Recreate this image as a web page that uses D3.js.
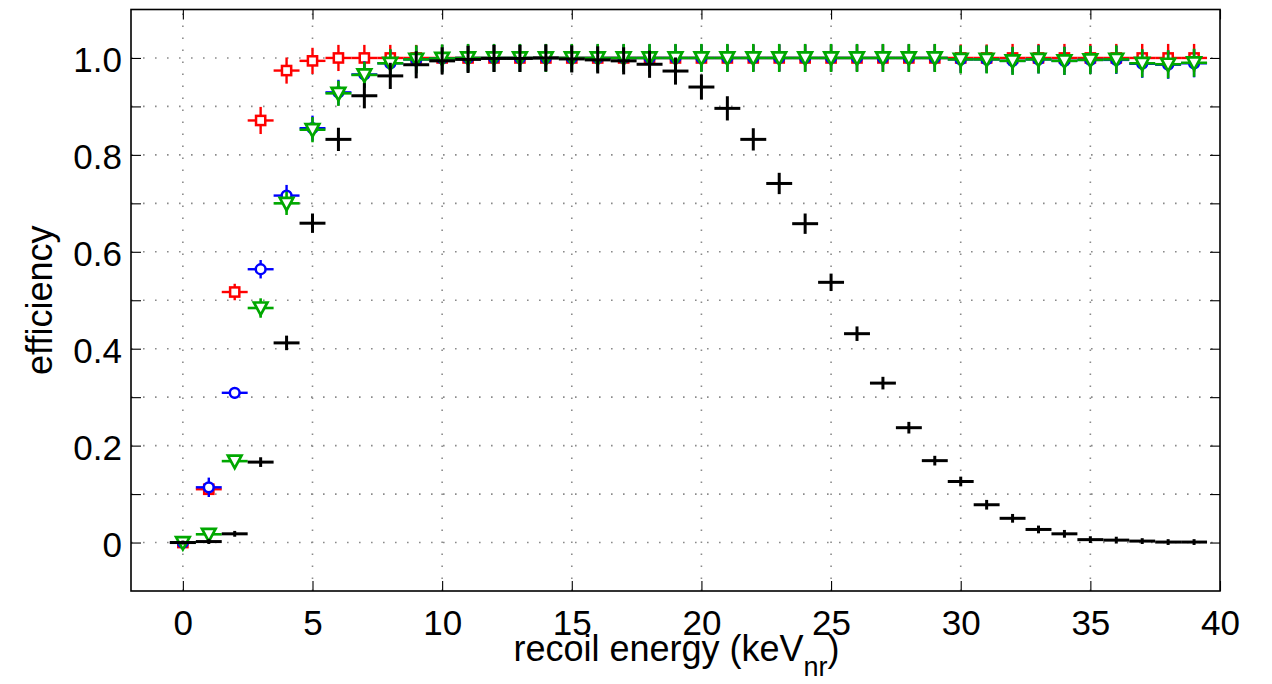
<!DOCTYPE html>
<html><head><meta charset="utf-8">
<script src="https://cdn.jsdelivr.net/npm/d3@7"></script>
<style>
html,body{margin:0;padding:0;background:#fff;}
svg{display:block;}
text{font-family:"Liberation Sans",Arial,Helvetica,sans-serif;fill:#000;}
</style></head>
<body>
<svg id="chart" width="1272" height="684"></svg>
<script>
// ---- data ----
const energy = d3.range(0, 40);
const xErr = 0.5;
const redVals = [0,0.110,0.517,0.871,0.974,0.994,1.0,1.0,1.0,1.0,1.0,1.0,1.0,1.0,1.0,1.0,1.0,1.0,1.0,1.0,1.0,1.0,1.0,1.0,1.0,1.0,1.0,1.0,1.0,1.0,1.0,1.0,1.0,1.0,1.0,1.0,1.0,1.0,1.0,1.0];
const redErr  = [0.003,0.010,0.017,0.028,0.027,0.027,0.027,0.027,0.027,0.027,0.027,0.027,0.027,0.027,0.027,0.027,0.027,0.027,0.027,0.027,0.027,0.027,0.027,0.027,0.027,0.027,0.027,0.028,0.028,0.028,0.028,0.028,0.029,0.029,0.029,0.029,0.029,0.029,0.029,0.029];
const blueVals = [0,0.114,0.309,0.564,0.716,0.855,0.929,0.966,0.989,0.997,0.999,1.0,1.0,1.0,1.0,1.0,1.0,1.0,1.0,1.0,1.0,1.0,1.0,1.0,1.0,1.0,1.0,1.0,1.0,1.0,0.997,0.997,0.994,0.997,0.994,0.996,0.996,0.988,0.986,0.989];
const blueErr  = [0.004,0.020,0.012,0.019,0.022,0.026,0.026,0.027,0.028,0.028,0.028,0.028,0.028,0.028,0.028,0.028,0.028,0.028,0.028,0.028,0.028,0.028,0.028,0.028,0.028,0.028,0.028,0.028,0.028,0.028,0.028,0.028,0.028,0.029,0.029,0.029,0.029,0.029,0.029,0.029];
const greenVals = [0,0.017,0.168,0.484,0.700,0.852,0.927,0.965,0.989,0.997,0.999,1.0,1.0,1.0,1.0,1.0,1.0,1.0,1.0,1.0,1.0,1.0,1.0,1.0,1.0,1.0,1.0,1.0,1.0,1.0,0.997,0.997,0.994,0.997,0.994,0.996,0.997,0.989,0.987,0.990];
const greenErr  = [0.005,0.008,0.010,0.020,0.024,0.026,0.026,0.027,0.029,0.029,0.029,0.029,0.029,0.029,0.029,0.029,0.029,0.029,0.029,0.029,0.029,0.029,0.029,0.029,0.029,0.029,0.029,0.029,0.029,0.029,0.029,0.029,0.029,0.029,0.029,0.029,0.029,0.029,0.029,0.029];
const blackVals = [0,0.002,0.018,0.166,0.412,0.659,0.832,0.922,0.963,0.986,0.994,0.997,0.999,0.999,1.0,0.998,0.996,0.994,0.987,0.973,0.940,0.896,0.832,0.741,0.658,0.537,0.431,0.329,0.237,0.169,0.126,0.078,0.050,0.027,0.018,0.006,0.005,0.003,0.001,0.001];
const blackErr  = [0.004,0.005,0.006,0.010,0.015,0.020,0.024,0.026,0.027,0.028,0.028,0.028,0.028,0.028,0.028,0.028,0.028,0.028,0.028,0.028,0.026,0.025,0.023,0.022,0.021,0.018,0.015,0.013,0.012,0.010,0.010,0.010,0.009,0.008,0.008,0.007,0.007,0.006,0.006,0.006];
const xTicks = [0,5,10,15,20,25,30,35,40];
const yTicks = [0,0.1,0.2,0.3,0.4,0.5,0.6,0.7,0.8,0.9,1.0];
const yLabelTicks = [0,0.2,0.4,0.6,0.8,1.0];
const xLabel = "recoil energy (keV";
const xLabelSub = "nr";
const yLabel = "efficiency";

// ---- layout ----
const svg = d3.select("#chart");
const L = 131, R = 1220, T = 9.5, B = 591;
const x = d3.scaleLinear().domain([-2, 40]).range([L, R]);
const y = d3.scaleLinear().domain([-0.1, 1.1]).range([B, T]);
const fontTick = 35, fontLabel = 36;

svg.append("rect").attr("width",1272).attr("height",684).attr("fill","#fff");

// grid
const grid = svg.append("g").attr("stroke","#8a8a8a").attr("stroke-width",1.6).attr("stroke-dasharray","1.6 10.4");
grid.selectAll("line.h").data(yTicks).enter().append("line")
  .attr("x1",L).attr("x2",R).attr("y1",d=>y(d)).attr("y2",d=>y(d));
grid.selectAll("line.v").data(xTicks.filter(d=>d<40)).enter().append("line")
  .attr("y1",B).attr("y2",T).attr("x1",d=>x(d)).attr("x2",d=>x(d));

// series
const series = [
  {vals: redVals, err: redErr, color:"#ff0000", marker:"square", bw:2.4},
  {vals: blueVals, err: blueErr, color:"#0000ff", marker:"circle", bw:2.4},
  {vals: greenVals, err: greenErr, color:"#00a800", marker:"tri", bw:2.6},
  {vals: blackVals, err: blackErr, color:"#000000", marker:"none", bw:3}
];
series.forEach(s => {
  const g = svg.append("g");
  const pts = energy.map((e,i)=>({e, v:s.vals[i], er:s.err[i]}));
  g.selectAll("line.xb").data(pts).enter().append("line")
    .attr("x1",d=>x(d.e-xErr)).attr("x2",d=>x(d.e+xErr))
    .attr("y1",d=>y(d.v)).attr("y2",d=>y(d.v))
    .attr("stroke",s.color).attr("stroke-width",s.bw);
  g.selectAll("line.yb").data(pts).enter().append("line")
    .attr("x1",d=>x(d.e)).attr("x2",d=>x(d.e))
    .attr("y1",d=>y(d.v-d.er)).attr("y2",d=>y(d.v+d.er))
    .attr("stroke",s.color).attr("stroke-width",s.bw);
  if (s.marker === "square") {
    g.selectAll("rect").data(pts).enter().append("rect")
      .attr("x",d=>x(d.e)-4.6).attr("y",d=>y(d.v)-4.6).attr("width",9.2).attr("height",9.2)
      .attr("fill","#fff").attr("stroke",s.color).attr("stroke-width",2.5);
  } else if (s.marker === "circle") {
    g.selectAll("circle").data(pts).enter().append("circle")
      .attr("cx",d=>x(d.e)).attr("cy",d=>y(d.v)).attr("r",4.9)
      .attr("fill","#fff").attr("stroke",s.color).attr("stroke-width",2.5);
  } else if (s.marker === "tri") {
    g.selectAll("path").data(pts).enter().append("path")
      .attr("d",d=>{const cx=x(d.e), cy=y(d.v); return `M${cx-6.8},${cy-5.5}L${cx+6.8},${cy-5.5}L${cx},${cy+7}Z`;})
      .attr("fill","#fff").attr("stroke",s.color).attr("stroke-width",2.7).attr("stroke-linejoin","miter");
  }
});

// axes
const axL = d3.axisLeft(y).tickValues(yTicks).tickSize(-10).tickPadding(9)
  .tickFormat(d => yLabelTicks.some(v=>Math.abs(v-d)<1e-9) ? (d===0 ? "0" : d3.format(".1f")(d)) : "");
const axR = d3.axisRight(y).tickValues(yTicks).tickSize(-10).tickFormat("");
const axB = d3.axisBottom(x).tickValues(xTicks).tickSize(-10).tickPadding(19).tickFormat(d3.format("d"));
const axT = d3.axisTop(x).tickValues(xTicks).tickSize(-10).tickFormat("");

function styleAxis(g){
  g.select(".domain").remove();
  g.selectAll(".tick line").attr("stroke","#000").attr("stroke-width",1.1);
  g.selectAll("text").style("font-size",fontTick+"px").attr("fill","#000");
}
svg.append("g").attr("transform",`translate(${L},0)`).call(axL).call(styleAxis)
  .selectAll("text").attr("dy","0.4em");
svg.append("g").attr("transform",`translate(${R},0)`).call(axR).call(styleAxis);
svg.append("g").attr("transform",`translate(0,${B})`).call(axB).call(styleAxis)
  .selectAll("text").attr("dy","0.71em");
svg.append("g").attr("transform",`translate(0,${T})`).call(axT).call(styleAxis);

// frame
svg.append("rect").attr("x",L).attr("y",T).attr("width",R-L).attr("height",B-T)
  .attr("fill","none").attr("stroke","#000").attr("stroke-width",1.6);

// labels
const xl = svg.append("text").attr("x",(L+R)/2+1).attr("y",661).attr("text-anchor","middle")
  .style("font-size",fontLabel+"px");
xl.append("tspan").text(xLabel);
xl.append("tspan").attr("dy",15).style("font-size","27px").text(xLabelSub);
xl.append("tspan").attr("dy",-15).text(")");

svg.append("text").attr("transform",`translate(52,${(T+B)/2}) rotate(-90)`)
  .attr("text-anchor","middle").style("font-size","36px").text(yLabel);
</script>
</body></html>
